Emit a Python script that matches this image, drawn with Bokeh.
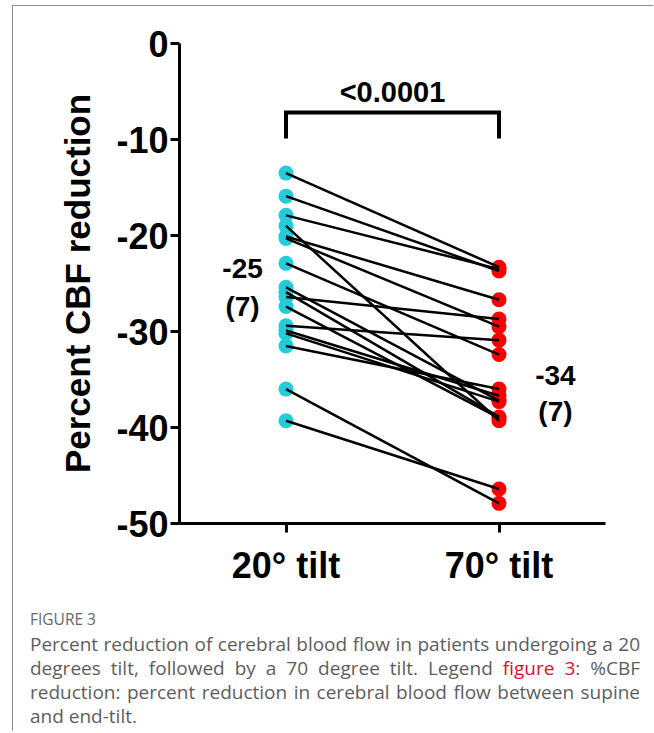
from bokeh.plotting import figure
from bokeh.models import FixedTicker, Div, ColumnDataSource
from bokeh.layouts import column
from bokeh.embed import file_html
from bokeh.resources import INLINE
from bokeh.core.properties import value

# ---------------- data ----------------
categories = ["20° tilt", "70° tilt"]
tilt20 = [-13.5, -15.9, -17.9, -19.0, -20.1, -20.3, -22.9, -25.4, -25.9,
          -26.4, -27.4, -29.4, -29.9, -30.2, -31.5, -36.0, -39.3]
tilt70 = [-23.3, -23.7, -23.5, -39.3, -26.7, -29.5, -32.4, -37.2, -38.9,
          -28.7, -39.0, -30.9, -36.7, -37.3, -36.0, -47.9, -46.4]
y_ticks = [0, -10, -20, -30, -40, -50]
y_tick_labels = ["0", "-10", "-20", "-30", "-40", "-50"]
mean_labels = ["-25", "-34"]
sd_labels = ["(7)", "(7)"]
p_value_label = "<0.0001"
y_title = "Percent CBF reduction"

FONT = "Liberation Sans"

p = figure(width=640, height=594, x_range=(0.5, 2.5), y_range=(-50, 0),
           output_backend="svg", toolbar_location=None,
           min_border_left=166, min_border_top=37, min_border_right=48,
           min_border_bottom=77)
p.outline_line_color = None
p.xgrid.grid_line_color = None
p.ygrid.grid_line_color = None
p.background_fill_color = "white"
p.border_fill_color = "white"

for ax in (p.xaxis[0], p.yaxis[0]):
    ax.axis_line_width = 3
    ax.axis_line_color = "black"
    ax.major_tick_line_width = 3
    ax.major_tick_line_color = "black"
    ax.major_tick_out = 9
    ax.major_tick_in = 0
    ax.minor_tick_line_color = None
    ax.major_label_text_font = FONT
    ax.major_label_text_font_style = "bold"
    ax.major_label_text_font_size = "36px"
    ax.major_label_text_color = "black"

p.xaxis.ticker = FixedTicker(ticks=[1, 2])
p.xaxis.major_label_overrides = {1: categories[0], 2: categories[1]}
p.xaxis.major_label_standoff = 12

p.yaxis.ticker = FixedTicker(ticks=y_ticks)
p.yaxis.major_label_overrides = {t: l for t, l in zip(y_ticks, y_tick_labels)}
p.yaxis.major_label_standoff = 2
p.yaxis.axis_label = y_title
p.yaxis.axis_label_text_font = FONT
p.yaxis.axis_label_text_font_style = "bold"
p.yaxis.axis_label_text_font_size = "35px"
p.yaxis.axis_label_standoff = 16
p.yaxis.axis_label_text_color = "black"

# points
n = len(tilt20)
p.scatter(x=[1] * n, y=tilt20, size=15, color="#22CCDA", line_color=None)
p.scatter(x=[2] * n, y=tilt70, size=15, color="#FF0000", line_color=None)

# paired lines
xs = [[1, 2] for _ in range(n)]
ys = [[a, b] for a, b in zip(tilt20, tilt70)]
p.multi_line(xs=xs, ys=ys, line_color="black", line_width=2.5)

# significance bracket
p.line(x=[1, 1, 2, 2], y=[-9.9, -7.2, -7.2, -9.9], line_color="black",
       line_width=4, line_join="miter")
p.text(x=[1.5], y=[-5.1], text=[p_value_label], text_align="center",
       text_baseline="middle", text_font=value(FONT), text_font_style="bold",
       text_font_size="29px", text_color="black")

# mean (sd) labels
lab = ColumnDataSource(dict(
    x=[0.796, 0.796, 2.265, 2.265],
    y=[-23.4, -27.4, -34.6, -38.3],
    t=[mean_labels[0], sd_labels[0], mean_labels[1], sd_labels[1]],
))
p.text(x="x", y="y", text="t", source=lab, text_align="center",
       text_baseline="middle", text_font=value(FONT), text_font_style="bold",
       text_font_size="28px", text_color="black")

caption = Div(
    width=610, height=122, margin=(9, 0, 0, 17),
    styles={"font-family": "Open Sans", "font-size": "19px",
            "line-height": "24px", "color": "#5e5e5e"},
    text=(
        '<div style="font-size:15.5px; line-height:20px; color:#686868;">FIGURE 3</div>'
        '<div style="text-align:justify; margin-top:3px;">'
        'Percent reduction of cerebral blood flow in patients undergoing a 20 '
        'degrees tilt, followed by a 70 degree tilt. Legend '
        '<span style="color:#e0102a">figure 3</span>: %CBF reduction: percent '
        'reduction in cerebral blood flow between supine and end-tilt.'
        '</div>'
    ),
)

layout = column(p, caption, styles={
    "margin-top": "5px", "margin-left": "12px",
    "border-top": "1px solid #8c8c8c", "border-left": "1px solid #8c8c8c",
})

open("out.html", "w").write(file_html(layout, INLINE))
